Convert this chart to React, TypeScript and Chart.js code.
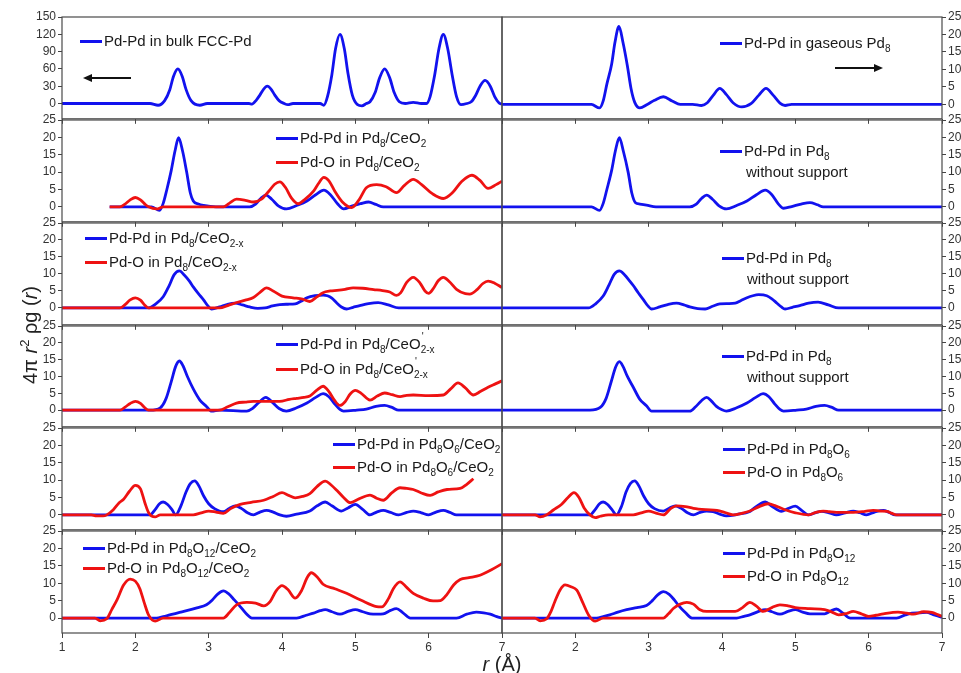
import React, { useEffect, useRef } from 'react';
import { Chart, registerables } from 'chart.js';
Chart.register(...registerables);

const BLUE = '#1212ee';
const RED = '#ee1212';
const FONT = '"Liberation Sans", Arial, Helvetica, sans-serif';

// ---- Row 1 ----
const bulkR = [1, 2.2, 2.31, 2.4, 2.47, 2.52, 2.58, 2.64, 2.69, 2.76, 2.88, 2.98, 3.55, 3.59, 3.65, 3.7, 3.75, 3.8, 3.85, 3.9, 3.96, 4.03, 4.08, 4.15, 4.52, 4.57, 4.62, 4.68, 4.73, 4.79, 4.85, 4.9, 4.96, 5.03, 5.09, 5.15, 5.2, 5.27, 5.33, 5.4, 5.47, 5.53, 5.6, 5.68, 5.79, 5.9, 5.97, 6.02, 6.08, 6.14, 6.2, 6.26, 6.32, 6.38, 6.44, 6.52, 6.58, 6.64, 6.7, 6.77, 6.84, 6.9, 6.96, 7];
const bulkG = [0, 0, -3, 5, 24, 47, 60, 47, 25, 5, -3, 0, 0, -1, 6, 15, 25, 30, 25, 15, 5, 0, -2, 0, 0, -3, 12, 50, 95, 120, 95, 52, 14, -2, -4, 0, 3, 19, 44, 60, 44, 19, 3, 0, 2, 0, 0, 12, 48, 95, 120, 95, 50, 12, -2, 0, 3, 14, 30, 40, 30, 12, 1, -1];

const gasR = [1, 2.22, 2.33, 2.38, 2.43, 2.495, 2.54, 2.595, 2.65, 2.71, 2.76, 2.81, 2.88, 2.98, 3.08, 3.2, 3.32, 3.43, 3.6, 3.72, 3.8, 3.88, 3.97, 4.06, 4.15, 4.27, 4.4, 4.5, 4.6, 4.7, 4.79, 4.86, 4.95, 7];
const gasG = [0, 0, -1, 1, 5.8, 11.5, 17.7, 22.3, 17.7, 11, 4.5, 0.6, -1, 0, 1.2, 2.2, 1.0, 0, 0, -0.3, 0.5, 2.6, 4.6, 2.8, 0.5, -0.7, 0.3, 2.6, 4.6, 2.6, 0.4, -0.3, 0, 0];

// ---- Row 2 ----
const ceo2PdR = [1.65, 2.22, 2.33, 2.38, 2.43, 2.49, 2.54, 2.59, 2.645, 2.7, 2.75, 2.79, 2.86, 2.93, 3.1, 3.56, 3.64, 3.71, 3.78, 3.86, 3.95, 4.06, 4.2, 4.34, 4.46, 4.57, 4.66, 4.76, 4.84, 4.95, 5.07, 5.18, 5.28, 5.38, 7];
const ceo2PdG = [0, 0, -1, 1, 5, 10.5, 16, 19.9, 16, 10, 4, 1.7, 0.8, 0.4, 0, 0, 0.8, 2.4, 3.4, 2.2, 0.3, -0.6, 0.4, 1.7, 3.5, 4.8, 3.5, 0.8, -0.6, 0.2, 0.9, 1.4, 0.7, 0, 0];
const ceo2OR = [1.65, 1.79, 1.86, 1.93, 2.0, 2.07, 2.14, 2.18, 2.29, 2.38, 3.2, 3.28, 3.38, 3.5, 3.61, 3.72, 3.82, 3.9, 3.97, 4.05, 4.13, 4.22, 4.32, 4.43, 4.5, 4.57, 4.64, 4.72, 4.82, 4.95, 5.05, 5.15, 5.29, 5.42, 5.56, 5.67, 5.79, 5.9, 6.05, 6.2, 6.33, 6.45, 6.59, 6.7, 6.81, 6.92, 7];
const ceo2OG = [0, 0, 0.8, 2.0, 2.7, 2.0, 0.6, 0, -0.6, 0, 0, 1.0, 2.2, 1.9, 1.4, 2.2, 4.5, 6.5, 7.2, 5.5, 2.5, 0.9, 2.3, 4.5, 6.8, 8.5, 7.5, 4.5, 1.5, -0.2, 2.0, 5.5, 6.4, 5.8, 4.1, 6.2, 7.9, 6.5, 3.8, 2.4, 4.2, 7.3, 9.1, 7.6, 5.3, 6.4, 7.4];
const free1R = [1, 2.22, 2.33, 2.38, 2.43, 2.495, 2.545, 2.6, 2.655, 2.72, 2.77, 2.82, 2.88, 2.97, 3.1, 3.56, 3.65, 3.72, 3.79, 3.87, 3.96, 4.06, 4.2, 4.34, 4.47, 4.59, 4.68, 4.77, 4.84, 4.95, 5.08, 5.2, 5.3, 5.38, 7];
const free1G = [0, 0, -1, 1, 5, 10.5, 16, 19.9, 16, 10, 4, 1.2, 0.8, 0.5, 0, 0, 0.8, 2.4, 3.4, 2.2, 0.3, -0.6, 0.4, 1.7, 3.5, 4.8, 3.5, 0.8, -0.4, 0.1, 0.8, 1.2, 0.6, 0, 0];

// ---- Row 3 ----
const ceo2xPdR = [1, 2.18, 2.28, 2.38, 2.46, 2.53, 2.6, 2.67, 2.74, 2.79, 2.86, 2.93, 2.99, 3.04, 3.15, 3.25, 3.36, 3.46, 3.56, 3.67, 3.77, 3.87, 3.97, 4.08, 4.18, 4.26, 4.34, 4.45, 4.56, 4.62, 4.68, 4.75, 4.81, 4.88, 4.97, 5.06, 5.18, 5.31, 5.45, 5.59, 7];
const ceo2xPdG = [0, 0, 1.2, 3.3, 6.5, 9.8, 10.9, 9.6, 7.8, 6.2, 4.2, 2.4, 0.6, -0.3, 0.3, 1.0, 1.4, 0.9, 0.3, -0.1, 0, 0.6, 1.0, 1.1, 1.2, 2.0, 3.0, 3.6, 3.8, 3.6, 2.9, 1.4, 0.3, -0.3, 0.2, 0.7, 1.3, 1.6, 0.9, 0, 0];
const ceo2xOR = [1, 1.79, 1.86, 1.93, 2.0, 2.07, 2.13, 2.18, 3.15, 3.26, 3.38, 3.5, 3.61, 3.7, 3.79, 3.88, 4.0, 4.15, 4.28, 4.38, 4.47, 4.56, 4.66, 4.75, 4.86, 4.97, 5.1, 5.25, 5.37, 5.47, 5.56, 5.62, 5.7, 5.79, 5.88, 5.95, 6.0, 6.06, 6.13, 6.2, 6.28, 6.38, 6.5, 6.56, 6.66, 6.74, 6.81, 6.9, 7];
const ceo2xOG = [0, 0, 1.0, 2.4, 3.0, 2.3, 0.8, 0, 0, 0.7, 1.6, 2.3, 3.1, 4.6, 5.9, 5.0, 3.5, 3.0, 2.6, 1.9, 3.2, 4.5, 5.0, 5.2, 5.5, 5.9, 5.8, 5.4, 5.1, 4.7, 3.7, 4.5, 7.5, 9.0, 7.4, 5.0, 4.3, 5.6, 8.0, 9.0, 7.8, 5.5, 4.2, 4.1, 5.4, 7.2, 7.9, 7.3, 6.0];
const free2R = [1, 2.18, 2.28, 2.38, 2.46, 2.53, 2.6, 2.67, 2.74, 2.79, 2.86, 2.93, 2.99, 3.04, 3.15, 3.26, 3.38, 3.48, 3.56, 3.67, 3.77, 3.87, 3.97, 4.08, 4.18, 4.26, 4.34, 4.42, 4.5, 4.61, 4.68, 4.75, 4.81, 4.86, 4.96, 5.06, 5.18, 5.31, 5.45, 5.59, 7];
const free2G = [0, 0, 1.3, 3.5, 6.8, 9.9, 10.9, 9.8, 8.0, 6.6, 4.4, 2.4, 0.6, -0.3, 0.3, 1.0, 1.4, 0.9, 0.3, -0.2, -0.3, 0.5, 1.2, 1.3, 1.4, 2.2, 3.0, 3.6, 3.9, 3.6, 2.7, 1.4, 0.3, -0.3, 0.2, 0.7, 1.4, 1.7, 0.9, 0, 0];

// ---- Row 4 ----
const ceo2xpPdR = [1, 2.2, 2.34, 2.42, 2.49, 2.55, 2.6, 2.65, 2.71, 2.79, 2.88, 2.97, 3.04, 3.15, 3.52, 3.6, 3.68, 3.78, 3.87, 3.96, 4.06, 4.2, 4.34, 4.46, 4.56, 4.64, 4.72, 4.79, 4.84, 5.02, 5.15, 5.28, 5.4, 5.5, 5.59, 7];
const ceo2xpPdG = [0, 0, 0.7, 3.5, 8.5, 13, 14.6, 13.2, 10, 6.3, 3.0, 1.1, -0.3, 0, -0.3, 0.5, 2.2, 3.8, 2.3, 0.5, -0.3, 0.7, 2.1, 3.8, 4.9, 4.0, 1.8, 0.2, -0.3, 0, 0.3, 1.1, 1.4, 0.8, 0, 0];
const ceo2xpOR = [1, 1.79, 1.86, 1.93, 2.0, 2.07, 2.13, 2.18, 3.15, 3.26, 3.38, 3.5, 3.61, 3.8, 3.97, 4.1, 4.2, 4.3, 4.38, 4.48, 4.56, 4.64, 4.72, 4.79, 4.86, 4.93, 5.0, 5.08, 5.2, 5.3, 5.4, 5.5, 5.61, 5.7, 5.79, 6.0, 6.2, 6.3, 6.4, 6.5, 6.61, 6.71, 6.81, 6.91, 7];
const ceo2xpOG = [0, 0, 0.9, 2.0, 2.6, 2.0, 0.7, 0, 0, 1.0, 2.1, 2.4, 2.6, 2.6, 2.6, 3.2, 3.5, 3.8, 4.2, 6.0, 7.1, 5.5, 2.8, 1.4, 2.5, 4.8, 5.9, 5.0, 3.0, 4.2, 5.1, 4.6, 4.0, 4.4, 4.5, 4.3, 4.5, 6.3, 8.1, 6.6, 4.5, 5.6, 6.8, 7.8, 8.7];
const free3R = [1, 2.2, 2.34, 2.42, 2.49, 2.55, 2.6, 2.65, 2.71, 2.79, 2.88, 2.97, 3.04, 3.56, 3.64, 3.72, 3.79, 3.86, 3.92, 4.0, 4.06, 4.2, 4.34, 4.46, 4.56, 4.64, 4.72, 4.79, 4.84, 5.02, 5.15, 5.28, 5.4, 5.5, 5.59, 7];
const free3G = [0, 0, 0.8, 3.5, 8.5, 12.8, 14.4, 13, 10, 6.8, 3.2, 1.3, -0.3, -0.3, 1.0, 2.8, 3.8, 2.6, 1.2, 0.1, -0.3, 0.7, 2.1, 3.8, 4.9, 4.0, 1.8, 0.2, -0.3, 0, 0.3, 1.1, 1.4, 0.8, 0, 0];

// ---- Row 5 ----
const o6cPdR = [1, 2.2, 2.27, 2.33, 2.38, 2.44, 2.5, 2.55, 2.62, 2.69, 2.75, 2.81, 2.87, 2.93, 3.0, 3.08, 3.2, 3.28, 3.36, 3.45, 3.53, 3.61, 3.7, 3.79, 3.88, 3.97, 4.06, 4.2, 4.38, 4.48, 4.59, 4.68, 4.81, 4.9, 5.0, 5.1, 5.2, 5.29, 5.38, 5.48, 5.59, 5.7, 5.79, 5.9, 6.0, 6.1, 6.2, 6.29, 6.38, 7];
const o6cPdG = [0, 0, 1.5, 3.2, 3.7, 3.0, 1.5, 0, 2.5, 6.5, 9.0, 9.8, 8.2, 5.5, 3.2, 1.8, 0.9, 1.8, 2.6, 1.8, 0.6, 0, 0.8, 1.3, 0.8, 0, -0.4, 0.2, 1.1, 2.6, 3.7, 2.6, 1.1, 2.0, 3.0, 1.6, 0, 0.8, 1.3, 0.7, 0, 0.7, 1.1, 0.6, 0, 0.8, 1.3, 0.7, 0, 0];
const o6cOR = [1, 1.4, 1.47, 1.56, 1.61, 1.7, 1.78, 1.84, 1.92, 2.0, 2.07, 2.13, 2.18, 2.27, 2.34, 2.79, 2.9, 3.0, 3.1, 3.2, 3.3, 3.43, 3.58, 3.75, 3.88, 4.0, 4.09, 4.18, 4.28, 4.38, 4.48, 4.59, 4.67, 4.75, 4.84, 4.93, 5.05, 5.2, 5.29, 5.38, 5.5, 5.61, 5.7, 5.79, 5.9, 6.02, 6.13, 6.25, 6.43, 6.52, 6.61];
const o6cOG = [0, 0, -0.3, -0.3, 0, 1.5, 3.5, 4.5, 6.8, 8.5, 7.5, 3.5, 0.7, -0.6, 0, 0, 0.6, 1.1, 0.8, 0.4, 1.8, 3.0, 3.6, 4.2, 5.3, 6.4, 5.6, 4.9, 5.3, 6.1, 8.2, 9.7, 8.6, 7.0, 5.0, 3.5, 4.6, 5.7, 4.8, 4.2, 6.4, 7.8, 7.6, 7.3, 6.3, 5.6, 6.6, 7.3, 7.6, 8.8, 10.4];
const o6PdR = [1, 2.2, 2.27, 2.33, 2.38, 2.44, 2.5, 2.56, 2.63, 2.69, 2.75, 2.81, 2.87, 2.93, 3.0, 3.08, 3.2, 3.28, 3.36, 3.45, 3.53, 3.61, 3.7, 3.79, 3.88, 3.97, 4.06, 4.2, 4.38, 4.48, 4.59, 4.68, 4.81, 4.9, 5.0, 5.09, 5.18, 5.27, 5.36, 5.46, 5.56, 5.68, 5.79, 5.88, 5.97, 6.08, 6.2, 6.28, 6.36, 7];
const o6PdG = [0, 0, 1.5, 3.2, 3.7, 3.0, 1.5, 0, 2.5, 6.5, 9.0, 9.8, 8.2, 5.5, 3.2, 1.8, 1.1, 1.9, 2.6, 1.8, 0.6, 0, 0.7, 1.1, 0.9, 0.2, -0.3, 0.1, 1.0, 2.6, 3.7, 2.5, 1.0, 1.8, 2.5, 1.2, 0, 0.6, 1.0, 0.6, 0, 0.6, 1.1, 0.6, 0, 0.8, 1.3, 0.7, 0, 0];
const o6OR = [1, 1.45, 1.52, 1.61, 1.7, 1.81, 1.9, 1.98, 2.05, 2.12, 2.2, 2.27, 2.34, 2.45, 2.79, 2.9, 3.0, 3.1, 3.2, 3.3, 3.38, 3.5, 3.61, 3.78, 3.93, 4.05, 4.15, 4.28, 4.38, 4.5, 4.63, 4.73, 4.84, 5.0, 5.18, 5.28, 5.38, 5.46, 5.56, 5.79, 5.95, 6.06, 6.16, 6.25, 6.31, 6.38, 7];
const o6OG = [0, 0, -0.6, 0, 1.4, 3.0, 5.0, 6.4, 5.0, 2.0, 0, -0.8, -0.4, 0, 0, 0.6, 1.1, 0.5, 0, 1.8, 2.6, 2.4, 1.9, 1.5, 1.3, 0.6, 0, 0.5, 1.1, 2.3, 3.2, 2.6, 1.6, 0.6, 0, 0.7, 1.1, 0.9, 0.7, 0.7, 1.0, 1.3, 1.1, 1.0, 0.5, 0, 0];

// ---- Row 6 ----
const o12cPdR = [1, 2.29, 2.38, 2.47, 2.58, 2.7, 2.84, 2.97, 3.05, 3.12, 3.2, 3.27, 3.35, 3.43, 3.51, 3.59, 4.2, 4.33, 4.43, 4.52, 4.59, 4.68, 4.79, 4.9, 5.0, 5.1, 5.2, 5.3, 5.38, 5.48, 5.56, 5.65, 5.75, 6.38, 6.52, 6.65, 6.75, 6.84, 6.93, 7];
const o12cPdG = [0, 0, 0.4, 0.9, 1.5, 2.1, 2.9, 3.8, 5.2, 6.8, 7.8, 7.0, 5.2, 3.3, 1.3, 0, 0, 0.8, 1.4, 2.1, 2.4, 1.8, 1.1, 1.9, 2.4, 1.8, 1.2, 1.1, 1.2, 2.2, 2.7, 1.5, 0, 0, 1.1, 1.7, 1.5, 1.1, 0.4, 0];
const o12cOR = [1, 1.45, 1.52, 1.61, 1.68, 1.75, 1.84, 1.93, 2.0, 2.06, 2.12, 2.18, 2.27, 2.38, 3.2, 3.28, 3.38, 3.52, 3.64, 3.75, 3.84, 3.92, 4.0, 4.08, 4.18, 4.27, 4.34, 4.4, 4.48, 4.56, 4.72, 4.88, 5.08, 5.29, 5.36, 5.45, 5.52, 5.61, 5.7, 5.79, 5.93, 6.06, 6.16, 6.25, 6.34, 6.43, 6.55, 6.7, 6.85, 7];
const o12cOG = [0, 0, -0.8, -0.2, 2.5, 5.2, 9.5, 11.2, 10.6, 8.5, 4.5, 0.9, -0.9, 0, 0, 1.5, 3.8, 4.5, 4.3, 3.5, 4.8, 7.8, 9.3, 8.2, 5.7, 8.0, 11.5, 13.0, 11.8, 9.7, 8.4, 7.1, 5.1, 3.3, 3.2, 5.5, 8.5, 10.4, 8.8, 7.1, 5.7, 4.9, 5.0, 6.8, 9.5, 11.1, 11.6, 12.3, 13.8, 15.6];
const o12PdR = [1, 2.29, 2.38, 2.47, 2.58, 2.7, 2.84, 2.97, 3.05, 3.12, 3.2, 3.28, 3.35, 3.4, 3.5, 3.59, 4.2, 4.3, 4.38, 4.5, 4.59, 4.68, 4.79, 4.9, 5.0, 5.1, 5.2, 5.4, 5.48, 5.56, 5.65, 5.75, 6.38, 6.5, 6.59, 6.7, 6.79, 6.88, 7];
const o12PdG = [0, 0, 0.4, 0.9, 1.7, 2.4, 3.0, 3.6, 5.0, 6.6, 7.6, 6.8, 5.2, 3.8, 1.6, 0, 0, 0.5, 0.9, 1.9, 2.4, 1.8, 1.1, 1.9, 2.4, 1.7, 1.2, 1.2, 2.0, 2.6, 1.4, 0, 0, 0.9, 1.4, 1.5, 1.6, 1.0, 0.2];
const o12OR = [1, 1.45, 1.52, 1.61, 1.67, 1.72, 1.79, 1.86, 1.94, 2.02, 2.1, 2.18, 2.27, 2.38, 3.2, 3.27, 3.34, 3.43, 3.52, 3.61, 3.7, 3.79, 4.18, 4.28, 4.38, 4.47, 4.56, 4.68, 4.79, 4.9, 5.0, 5.2, 5.4, 5.5, 5.59, 5.7, 5.79, 5.9, 6.0, 6.1, 6.2, 6.4, 6.52, 6.61, 6.75, 6.86, 6.95, 7];
const o12OG = [0, 0, -0.8, -0.2, 2.0, 4.7, 8.0, 9.5, 9.0, 8.0, 4.5, 0.9, -0.9, 0, 0, 1.2, 2.8, 4.0, 4.5, 4.0, 2.4, 1.9, 1.9, 3.0, 4.5, 3.4, 1.9, 3.0, 3.8, 3.5, 3.0, 2.7, 2.4, 1.7, 0.9, 1.3, 1.9, 1.2, 0.5, 0.8, 1.2, 1.7, 1.4, 1.1, 1.8, 1.6, 0.9, 0.5];

// axis settings
const xMin = 1, xMax = 7, xStep = 1;
const yTopStep = 30, yStep = 5;

type Series = { r: number[]; g: number[]; color: string };
type PanelCfg = { row: number; col: number; min: number; max: number; step: number; series: Series[] };

const panels: PanelCfg[] = [
  { row: 0, col: 0, min: -26.5, max: 150, step: yTopStep, series: [{ r: bulkR, g: bulkG, color: BLUE }] },
  { row: 0, col: 1, min: -4.1, max: 25, step: yStep, series: [{ r: gasR, g: gasG, color: BLUE }] },
  { row: 1, col: 0, min: -4.3, max: 25, step: yStep, series: [{ r: ceo2PdR, g: ceo2PdG, color: BLUE }, { r: ceo2OR, g: ceo2OG, color: RED }] },
  { row: 1, col: 1, min: -4.3, max: 25, step: yStep, series: [{ r: free1R, g: free1G, color: BLUE }] },
  { row: 2, col: 0, min: -4.95, max: 25, step: yStep, series: [{ r: ceo2xPdR, g: ceo2xPdG, color: BLUE }, { r: ceo2xOR, g: ceo2xOG, color: RED }] },
  { row: 2, col: 1, min: -4.95, max: 25, step: yStep, series: [{ r: free2R, g: free2G, color: BLUE }] },
  { row: 3, col: 0, min: -4.95, max: 25, step: yStep, series: [{ r: ceo2xpPdR, g: ceo2xpPdG, color: BLUE }, { r: ceo2xpOR, g: ceo2xpOG, color: RED }] },
  { row: 3, col: 1, min: -4.95, max: 25, step: yStep, series: [{ r: free3R, g: free3G, color: BLUE }] },
  { row: 4, col: 0, min: -4.3, max: 25, step: yStep, series: [{ r: o6cPdR, g: o6cPdG, color: BLUE }, { r: o6cOR, g: o6cOG, color: RED }] },
  { row: 4, col: 1, min: -4.3, max: 25, step: yStep, series: [{ r: o6PdR, g: o6PdG, color: BLUE }, { r: o6OR, g: o6OG, color: RED }] },
  { row: 5, col: 0, min: -4.3, max: 25, step: yStep, series: [{ r: o12cPdR, g: o12cPdG, color: BLUE }, { r: o12cOR, g: o12cOG, color: RED }] },
  { row: 5, col: 1, min: -4.3, max: 25, step: yStep, series: [{ r: o12PdR, g: o12PdG, color: BLUE }, { r: o12OR, g: o12OG, color: RED }] },
];

const EDGES = [17, 120, 223, 326, 428, 531, 633];
const XL = 62, XM = 502, XR = 942, W = 961, PT = 12;
const YW_L = 40, YW_R = 19;

const framePlugin = {
  id: 'frame',
  afterDatasetsDraw(chart: any) {
    const { ctx, chartArea: a } = chart;
    ctx.save();
    ctx.strokeStyle = '#4a4a4a';
    ctx.lineWidth = 1.2;
    ctx.strokeRect(a.left, a.top, a.right - a.left, a.bottom - a.top);
    ctx.restore();
  },
};

function PanelChart({ cfg }: { cfg: PanelCfg }) {
  const ref = useRef<HTMLCanvasElement>(null);
  const top = EDGES[cfg.row];
  const bottom = EDGES[cfg.row + 1];
  const isBottom = cfg.row === 5;
  const xh = isBottom ? 34 : 8;
  const H = PT + (bottom - top) + xh;
  useEffect(() => {
    const left = cfg.col === 0;
    const chart = new Chart(ref.current as HTMLCanvasElement, {
      type: 'line',
      data: {
        datasets: cfg.series.map((s) => ({
          data: s.r.map((x, i) => ({ x, y: s.g[i] })),
          borderColor: s.color,
          borderWidth: 2.8,
          pointRadius: 0,
          fill: false,
          cubicInterpolationMode: 'monotone' as const,
          order: s.color === RED ? 0 : 1,
        })),
      },
      options: {
        responsive: false,
        animation: false,
        events: [],
        layout: {
          padding: {
            top: PT,
            bottom: 0,
            left: left ? XL - YW_L : XM,
            right: left ? W - XM : W - XR - YW_R,
          },
        },
        plugins: { legend: { display: false }, tooltip: { enabled: false } },
        scales: {
          x: {
            type: 'linear',
            position: 'bottom',
            min: xMin,
            max: xMax,
            afterFit: (s: any) => { s.height = xh; },
            border: { display: false },
            grid: { drawOnChartArea: false, drawTicks: true, tickLength: 5, color: '#444', lineWidth: 1 },
            ticks: {
              display: isBottom,
              stepSize: xStep,
              autoSkip: false,
              maxRotation: 0,
              padding: 2,
              color: '#333',
              font: { size: 12, family: FONT },
              callback: (v: any) => (!left && v === 1 ? '' : String(v)),
            },
          },
          y: {
            type: 'linear',
            position: left ? 'left' : 'right',
            min: cfg.min,
            max: cfg.max,
            afterFit: (s: any) => { s.width = left ? YW_L : YW_R; },
            border: { display: false },
            grid: { drawOnChartArea: false, drawTicks: true, tickLength: 4, color: '#444', lineWidth: 1 },
            ticks: {
              stepSize: cfg.step,
              includeBounds: false,
              padding: 2,
              color: '#333',
              font: { size: 12, family: FONT },
            },
          },
        },
      },
      plugins: [framePlugin],
    } as any);
    return () => chart.destroy();
  }, []);
  return (
    <canvas
      ref={ref}
      width={W}
      height={H}
      style={{ position: 'absolute', left: 0, top: top - PT, width: W, height: H }}
    />
  );
}

const sub = (t: string) => (
  <sub style={{ fontSize: 10, lineHeight: 0, verticalAlign: -4 }}>{t}</sub>
);
const primeSub = (t: string) => (
  <span style={{ position: 'relative' }}>
    <span style={{ position: 'absolute', left: 1, top: -8, fontSize: 10 }}>'</span>
    {sub(t)}
  </span>
);

function Item({ x, y, color, children }: { x: number; y: number; color: string; children: any }) {
  return (
    <div style={{ position: 'absolute', left: x, top: y - 10, height: 20, display: 'flex', alignItems: 'center', whiteSpace: 'nowrap', fontSize: 15, color: '#1a1a1a', lineHeight: '20px' }}>
      <span style={{ display: 'inline-block', width: 22, height: 3, background: color, marginRight: 2 }} />
      <span>{children}</span>
    </div>
  );
}

function Note({ x, y, children }: { x: number; y: number; children: any }) {
  return (
    <div style={{ position: 'absolute', left: x, top: y - 10, height: 20, display: 'flex', alignItems: 'center', whiteSpace: 'nowrap', fontSize: 15, color: '#1a1a1a', lineHeight: '20px' }}>
      {children}
    </div>
  );
}

export default function App() {
  return (
    <div style={{ position: 'absolute', left: 0, top: 0, width: W, height: 673, background: '#fff', fontFamily: FONT, overflow: 'hidden' }}>
      {panels.map((p, i) => (
        <PanelChart key={i} cfg={p} />
      ))}

      {/* legends */}
      <Item x={80} y={41} color={BLUE}>Pd-Pd in bulk FCC-Pd</Item>
      <Item x={720} y={43} color={BLUE}>Pd-Pd in gaseous Pd{sub('8')}</Item>

      <Item x={276} y={138} color={BLUE}>Pd-Pd in Pd{sub('8')}/CeO{sub('2')}</Item>
      <Item x={276} y={162} color={RED}>Pd-O in Pd{sub('8')}/CeO{sub('2')}</Item>
      <Item x={720} y={151} color={BLUE}>Pd-Pd in Pd{sub('8')}</Item>
      <Note x={746} y={172}>without support</Note>

      <Item x={85} y={238} color={BLUE}>Pd-Pd in Pd{sub('8')}/CeO{sub('2-x')}</Item>
      <Item x={85} y={262} color={RED}>Pd-O in Pd{sub('8')}/CeO{sub('2-x')}</Item>
      <Item x={722} y={258} color={BLUE}>Pd-Pd in Pd{sub('8')}</Item>
      <Note x={747} y={279}>without support</Note>

      <Item x={276} y={344} color={BLUE}>Pd-Pd in Pd{sub('8')}/CeO{primeSub('2-x')}</Item>
      <Item x={276} y={369} color={RED}>Pd-O in Pd{sub('8')}/CeO{primeSub('2-x')}</Item>
      <Item x={722} y={356} color={BLUE}>Pd-Pd in Pd{sub('8')}</Item>
      <Note x={747} y={377}>without support</Note>

      <Item x={333} y={444} color={BLUE}>Pd-Pd in Pd{sub('8')}O{sub('6')}/CeO{sub('2')}</Item>
      <Item x={333} y={467} color={RED}>Pd-O in Pd{sub('8')}O{sub('6')}/CeO{sub('2')}</Item>
      <Item x={723} y={449} color={BLUE}>Pd-Pd in Pd{sub('8')}O{sub('6')}</Item>
      <Item x={723} y={472} color={RED}>Pd-O in Pd{sub('8')}O{sub('6')}</Item>

      <Item x={83} y={548} color={BLUE}>Pd-Pd in Pd{sub('8')}O{sub('12')}/CeO{sub('2')}</Item>
      <Item x={83} y={568} color={RED}>Pd-O in Pd{sub('8')}O{sub('12')}/CeO{sub('2')}</Item>
      <Item x={723} y={553} color={BLUE}>Pd-Pd in Pd{sub('8')}O{sub('12')}</Item>
      <Item x={723} y={576} color={RED}>Pd-O in Pd{sub('8')}O{sub('12')}</Item>

      {/* arrows */}
      <svg width={W} height={673} style={{ position: 'absolute', left: 0, top: 0, pointerEvents: 'none' }}>
        <line x1={90} y1={78} x2={131} y2={78} stroke="#111" strokeWidth={2} />
        <polygon points="83,78 92,74 92,82" fill="#111" />
        <line x1={835} y1={68} x2={875} y2={68} stroke="#111" strokeWidth={2} />
        <polygon points="883,68 874,64 874,72" fill="#111" />
      </svg>

      {/* axis titles */}
      <div style={{ position: 'absolute', left: 30, top: 335, transform: 'translate(-50%, -50%) rotate(-90deg)', whiteSpace: 'nowrap', fontSize: 20, color: '#222' }}>
        4π <i>r</i><sup style={{ fontSize: 13, lineHeight: 0 }}>2</sup> ρg (<i>r</i>)
      </div>
      <div style={{ position: 'absolute', left: 502, top: 664, transform: 'translate(-50%, -50%)', whiteSpace: 'nowrap', fontSize: 20, color: '#222' }}>
        <i>r</i> (Å)
      </div>
    </div>
  );
}
